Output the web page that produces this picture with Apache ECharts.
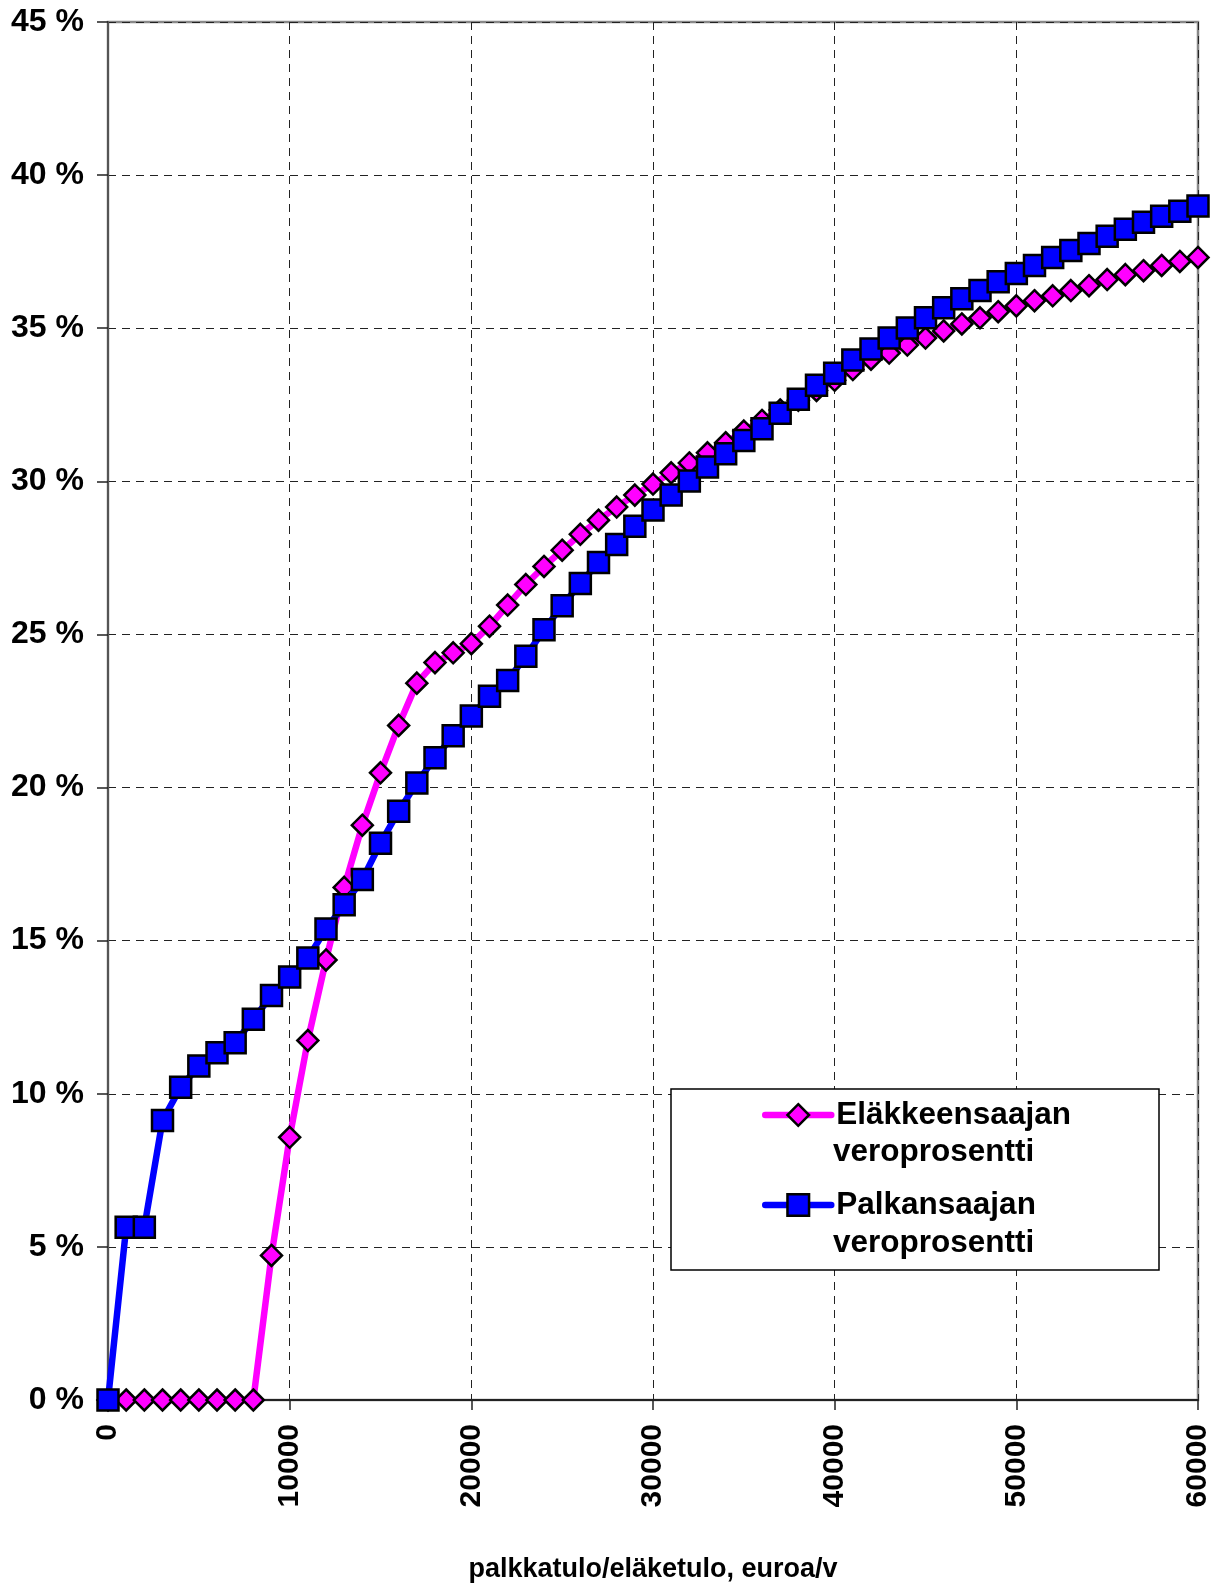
<!DOCTYPE html>
<html><head><meta charset="utf-8">
<script src="https://cdn.jsdelivr.net/npm/echarts@6/dist/echarts.min.js"></script>
<style>html,body{margin:0;padding:0;background:#fff}#c{width:1219px;height:1588px}</style>
</head><body><div id="c"></div>
<script>
// income, euro per year
const income = [0,1000,2000,3000,4000,5000,6000,7000,8000,9000,10000,11000,12000,13000,14000,15000,16000,17000,18000,19000,20000,
  21000,22000,23000,24000,25000,26000,27000,28000,29000,30000,31000,32000,33000,34000,35000,36000,37000,38000,39000,40000,
  41000,42000,43000,44000,45000,46000,47000,48000,49000,50000,51000,52000,53000,54000,55000,56000,57000,58000,59000,60000];
// Eläkkeensaajan veroprosentti (%)
const pensionerTax = [0,0,0,0,0,0,0,0,0,4.72,8.58,11.74,14.37,16.74,18.77,20.48,22.03,23.41,24.08,24.40,24.70,
  25.27,25.96,26.63,27.22,27.75,28.27,28.73,29.16,29.55,29.91,30.28,30.60,30.93,31.26,31.64,31.99,32.33,32.65,32.97,33.30,
  33.65,33.99,34.19,34.45,34.68,34.91,35.14,35.34,35.54,35.73,35.90,36.06,36.23,36.39,36.59,36.75,36.88,37.05,37.18,37.31];
// Palkansaajan veroprosentti (%)
const wageTax = [0,5.64,5.64,9.13,10.21,10.91,11.34,11.67,12.43,13.21,13.81,14.43,15.38,16.17,17.00,18.18,19.23,20.15,20.97,21.69,22.34,
  22.98,23.50,24.29,25.15,25.94,26.66,27.35,27.94,28.53,29.06,29.55,30.01,30.47,30.90,31.33,31.72,32.22,32.68,33.14,33.53,
  33.96,34.32,34.68,35.01,35.34,35.67,35.96,36.23,36.52,36.79,37.05,37.31,37.54,37.77,38.00,38.23,38.46,38.66,38.82,38.99];
const seriesNames = ['Eläkkeensaajan\nveroprosentti', 'Palkansaajan\nveroprosentti'];
const seriesColors = ['#FF00FF', '#0000FF'];
const seriesSymbols = ['diamond', 'rect'];
const xAxisTitle = 'palkkatulo/eläketulo, euroa/v';

const FONT = "'Liberation Sans', Arial, sans-serif";
const chart = echarts.init(document.getElementById('c'), null, {renderer: 'canvas'});
const GL = 108, GT = 22, GW = 1090, GH = 1384;

const series = [pensionerTax, wageTax].map((vals, k) => ({
  name: seriesNames[k],
  type: 'line',
  data: income.map((x, i) => [x, vals[i]]),
  symbol: seriesSymbols[k],
  symbolSize: 21,
  clip: false,
  z: 2 + k,
  lineStyle: {color: seriesColors[k], width: 6.5},
  itemStyle: {color: seriesColors[k], borderColor: '#000', borderWidth: 2.5},
  emphasis: {disabled: true}
}));

chart.setOption({
  animation: false,
  backgroundColor: '#fff',
  grid: {left: GL, top: GT, width: GW, height: GH, show: true, borderColor: '#888', borderWidth: 2.5, backgroundColor: 'transparent'},
  xAxis: {
    type: 'value', min: 0, max: 60000, interval: 10000,
    name: xAxisTitle, nameLocation: 'middle', nameGap: 156,
    nameTextStyle: {fontFamily: FONT, fontSize: 27, fontWeight: 'bold', color: '#000'},
    axisLine: {show: true, lineStyle: {color: '#222', width: 2}},
    axisTick: {show: true, length: 10, lineStyle: {color: '#222', width: 1.5}},
    axisLabel: {rotate: 90, margin: 24, fontFamily: FONT, fontSize: 30, fontWeight: 'bold', color: '#000', formatter: v => String(v)},
    splitLine: {show: true, lineStyle: {color: '#222', width: 1, type: [8, 6]}}
  },
  yAxis: {
    type: 'value', min: 0, max: 45, interval: 5,
    axisLine: {show: true, lineStyle: {color: '#555', width: 2}},
    axisTick: {show: true, length: 11, lineStyle: {color: '#222', width: 1.5}},
    axisLabel: {margin: 24, fontFamily: FONT, fontSize: 32, fontWeight: 'bold', color: '#000', formatter: v => v + ' %'},
    splitLine: {show: true, lineStyle: {color: '#222', width: 1, type: [8, 6]}}
  },
  legend: {
    orient: 'vertical', left: 762, top: 1099, padding: 0,
    itemWidth: 66, itemHeight: 27, itemGap: 58,
    data: seriesNames,
    formatter: n => n.split('\n')[0],
    lineStyle: {width: 6.5, cap: 'round'},
    itemStyle: {borderColor: '#000', borderWidth: 2.5},
    textStyle: {fontFamily: FONT, fontSize: 31.5, fontWeight: 'bold', color: '#000', lineHeight: 32},
    selectedMode: false, z: 6
  },
  graphic: [
    {type: 'rect', z: 4, shape: {x: 671, y: 1089, width: 488, height: 181},
     style: {fill: '#fff', stroke: '#000', lineWidth: 1.5}},
    {type: 'text', z: 7, x: 833, y: 1152,
     style: {text: seriesNames[0].split('\n')[1], font: "bold 31.5px 'Liberation Sans', Arial, sans-serif", fill: '#000', verticalAlign: 'middle'}},
    {type: 'text', z: 7, x: 833, y: 1243,
     style: {text: seriesNames[1].split('\n')[1], font: "bold 31.5px 'Liberation Sans', Arial, sans-serif", fill: '#000', verticalAlign: 'middle'}}
  ],
  series: series
});
</script></body></html>
